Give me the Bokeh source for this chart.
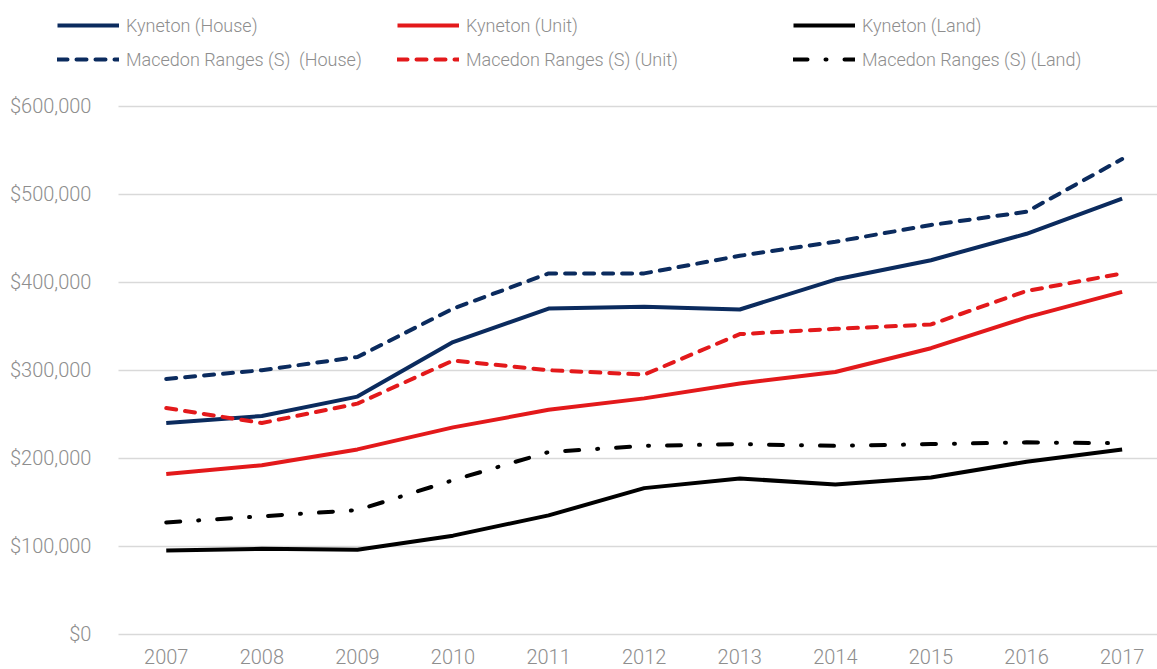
from bokeh.plotting import figure
from bokeh.models import (FixedTicker, NumeralTickFormatter, Legend, LegendItem, Range1d, Grid)
from bokeh.embed import file_html
from bokeh.resources import INLINE

years = [2007, 2008, 2009, 2010, 2011, 2012, 2013, 2014, 2015, 2016, 2017]
kyneton_house = [240000, 248000, 270000, 332000, 370000, 372000, 369000, 403000, 425000, 455000, 495000]
macedon_house = [290000, 300000, 315000, 370000, 410000, 410000, 430000, 446000, 465000, 480000, 540000]
kyneton_unit = [182000, 192000, 210000, 235000, 255000, 268000, 285000, 298000, 325000, 360000, 389000]
macedon_unit = [257000, 240000, 262000, 311000, 300000, 295000, 341000, 347000, 352000, 390000, 410000]
kyneton_land = [95000, 97000, 96000, 112000, 135000, 166000, 177000, 170000, 178000, 196000, 210000]
macedon_land = [127000, 134000, 141000, 175000, 207000, 214000, 216000, 214000, 216000, 218000, 217000]
y_ticks = [0, 100000, 200000, 300000, 400000, 500000, 600000]
series_labels = ["Kyneton (House)", "Kyneton (Unit)", "Kyneton (Land)",
                 "Macedon Ranges (S)  (House)", "Macedon Ranges (S) (Unit)", "Macedon Ranges (S) (Land)"]

NAVY = "#0B2B5E"
RED = "#E3191B"
BLACK = "#000000"
GRAY = "#8E8E8E"
FONT = "Roboto Light, Roboto"
LW = 4
DASH = "10 9"
DASHDOT = "14 18 1 18"

styles = [
    dict(line_color=NAVY, line_width=LW, line_join="round"),
    dict(line_color=RED, line_width=LW, line_join="round"),
    dict(line_color=BLACK, line_width=LW, line_join="round"),
    dict(line_color=NAVY, line_width=LW, line_dash=DASH, line_cap="round", line_join="round"),
    dict(line_color=RED, line_width=LW, line_dash=DASH, line_cap="round", line_join="round"),
    dict(line_color=BLACK, line_width=LW, line_dash=DASHDOT, line_cap="round", line_join="round"),
]
series = [kyneton_house, kyneton_unit, kyneton_land, macedon_house, macedon_unit, macedon_land]

# the frame spans the whole canvas; axes are drawn at fixed locations inside it
X_LEFT, X_RIGHT = 2005.266, 2017.37
AXIS_X = 2006.5
Y_LOW, Y_HIGH = -40100, 720100
AXIS_Y = 0

p = figure(width=1157, height=669, output_backend="svg", toolbar_location=None,
           x_range=Range1d(X_LEFT, X_RIGHT), y_range=Range1d(Y_LOW, Y_HIGH),
           min_border_left=0, min_border_right=0, min_border_top=0, min_border_bottom=0)
p.outline_line_color = None
p.background_fill_color = "white"
p.border_fill_color = "white"

# grid
p.xgrid.grid_line_color = None
p.ygrid.grid_line_color = "#D9D9D9"
p.ygrid.grid_line_width = 1.6
if "cross_bounds" in Grid.properties():
    p.ygrid.cross_bounds = (AXIS_X, X_RIGHT)
else:
    p.ygrid.grid_line_color = None
    p.segment(x0=[AXIS_X] * len(y_ticks), x1=[X_RIGHT] * len(y_ticks), y0=y_ticks, y1=y_ticks,
              line_color="#D9D9D9", line_width=1.6)

renderers = [p.line(years, ys, **st) for ys, st in zip(series, styles)]

p.xaxis.ticker = FixedTicker(ticks=years)
p.yaxis.ticker = FixedTicker(ticks=y_ticks)
p.yaxis.formatter = NumeralTickFormatter(format="$0,0")
p.yaxis.fixed_location = AXIS_X
p.xaxis.fixed_location = AXIS_Y
for ax in (p.xaxis, p.yaxis):
    ax.axis_line_color = None
    ax.major_tick_line_color = None
    ax.minor_tick_line_color = None
    ax.major_label_text_color = GRAY
    ax.major_label_text_font = FONT
    ax.major_label_text_font_size = "20px"
p.yaxis.major_label_standoff = 21
p.xaxis.major_label_standoff = 9

col_x = [57, 397, 793]
for c in range(3):
    items = [LegendItem(label=series_labels[c], renderers=[renderers[c]]),
             LegendItem(label=series_labels[c + 3], renderers=[renderers[c + 3]])]
    leg = Legend(items=items, location=(col_x[c], 598), orientation="vertical",
                 glyph_width=62, glyph_height=24, label_height=24, label_standoff=7,
                 spacing=10, padding=0, margin=0,
                 border_line_color=None, background_fill_alpha=0,
                 label_text_color=GRAY, label_text_font=FONT, label_text_font_size="18px")
    p.add_layout(leg, "center")

open("out.html", "w").write(file_html(p, INLINE))
